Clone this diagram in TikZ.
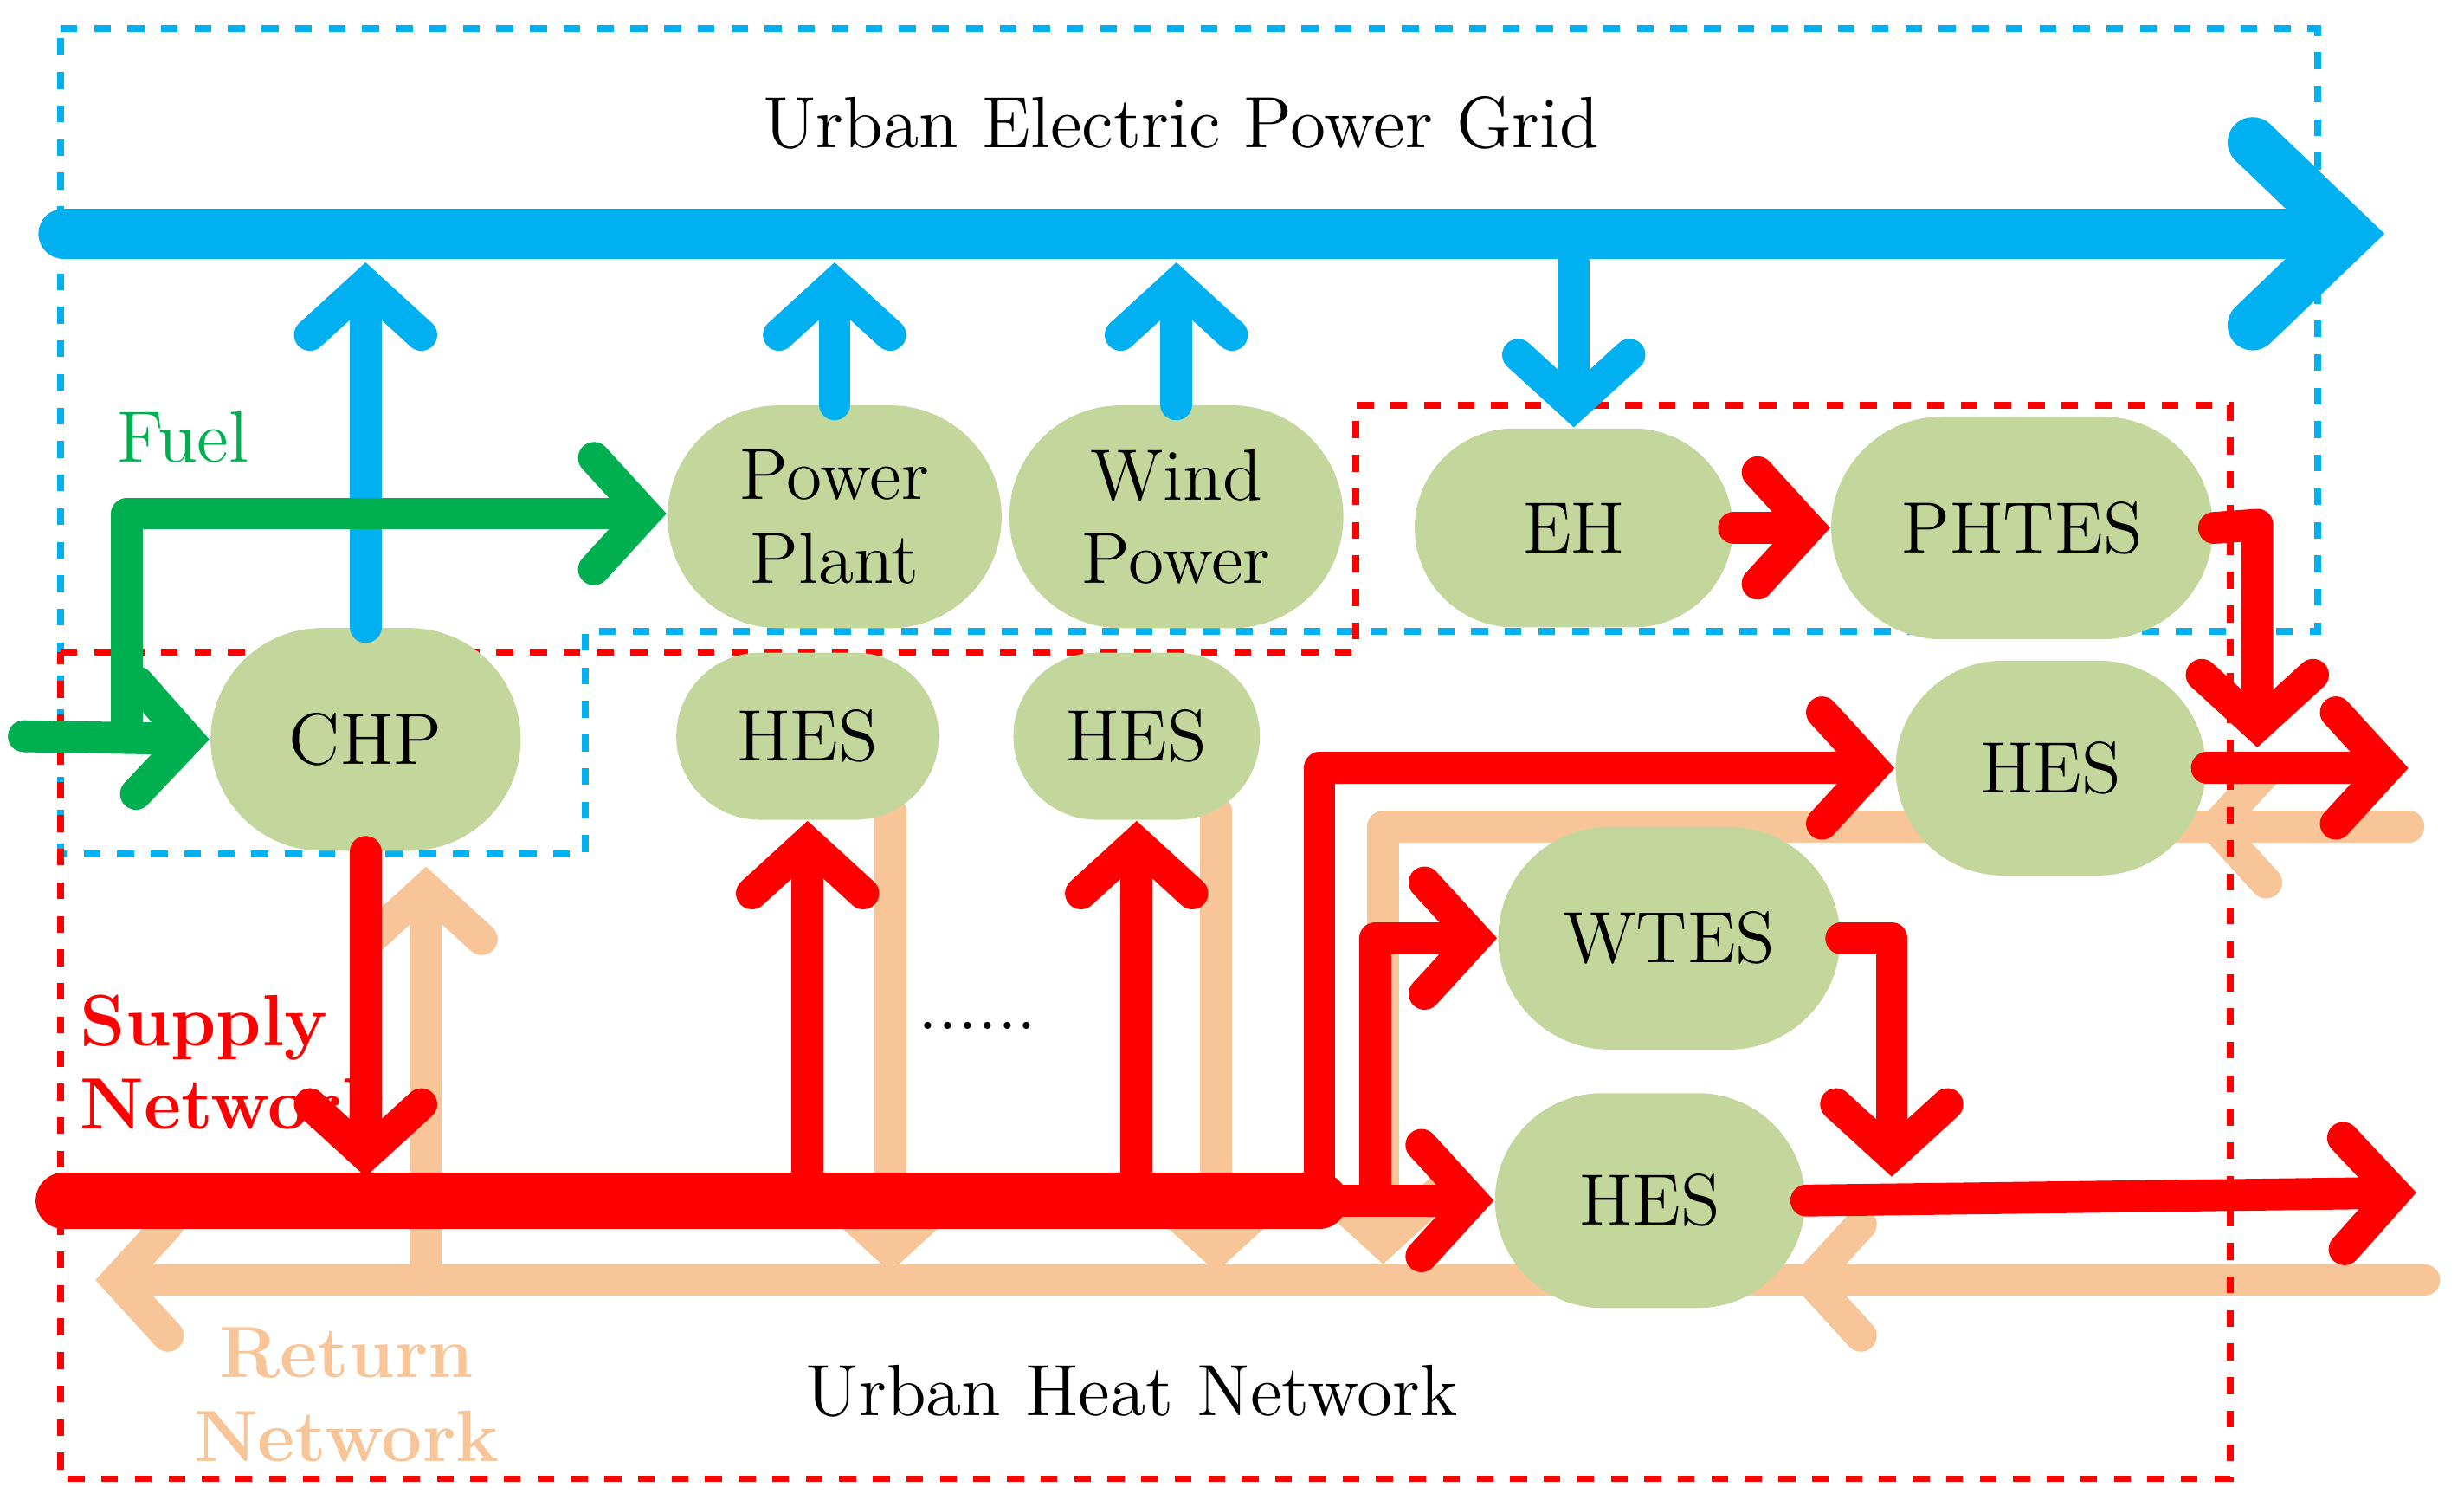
\documentclass[tikz,border=0pt]{standalone}
\usetikzlibrary{arrows.meta,shapes.misc,backgrounds}
\definecolor{eblue}{RGB}{0,176,240}
\definecolor{hred}{RGB}{255,0,0}
\definecolor{retc}{RGB}{248,197,152}
\definecolor{fuelg}{RGB}{0,176,80}
\definecolor{boxg}{RGB}{195,214,155}
\begin{document}
\begin{tikzpicture}[x=0.01cm,y=-0.01cm,
  font=\fontsize{13}{15}\selectfont,
  box/.style={rounded rectangle,fill=boxg,inner sep=0pt,align=center},
  flow/.style={line width=5.7pt,line cap=round,line join=round,
    -{Straight Barb[length=0.32cm,width=0.7cm,line cap=round]}},
  big/.style={line width=9pt,line cap=round,
    -{Straight Barb[length=0.6cm,width=1.15cm,line cap=round]}},
  zone/.style={dashed,line width=1.2pt}]
\useasboundingbox (0,0) rectangle (1550,943);
% zones
\draw[zone,eblue] (38,18) -- (1458,18) -- (1458,397) -- (368,397) -- (368,537) -- (38,537) -- cycle;
\draw[zone,hred] (38,410) -- (853,410) -- (853,255) -- (1403,255) -- (1403,930) -- (38,930) -- cycle;
% nodes
\node[box,minimum width=1.95cm,minimum height=1.4cm] (chp) at (230,465) {CHP};
\node[box,minimum width=2.1cm,minimum height=1.4cm] (pp) at (525,325) {Power\\Plant};
\node[box,minimum width=2.1cm,minimum height=1.4cm] (wp) at (740,325) {Wind\\Power};
\node[box,minimum width=2cm,minimum height=1.25cm] (eh) at (990,332) {EH};
\node[box,minimum width=2.4cm,minimum height=1.4cm] (ph) at (1272,332) {PHTES};
\node[box,minimum width=1.65cm,minimum height=1.05cm] (h1) at (508,463) {HES};
\node[box,minimum width=1.55cm,minimum height=1.05cm] (h2) at (715,463) {HES};
\node[box,minimum width=1.95cm,minimum height=1.35cm] (h3) at (1290,483) {HES};
\node[box,minimum width=2.15cm,minimum height=1.4cm] (wt) at (1050,590) {WTES};
\node[box,minimum width=1.95cm,minimum height=1.35cm] (h4) at (1038,755) {HES};
% texts
\node (t1) at (743,77) {Urban Electric Power Grid};
\node (t2) at (712,875) {Urban Heat Network};
\node[fuelg] (t3) at (115,275) {Fuel};
\node[hred,font=\fontsize{13}{15}\selectfont\bfseries,align=left,anchor=west] (t4) at (38,668) {Supply\\Network};
\node[retc,font=\fontsize{13}{15}\selectfont\bfseries,align=center] (t5) at (218,877) {Return\\Network};
\node (t6) at (615,645) {......};
% coordinates
\coordinate (gl) at (40,147); \coordinate (gr) at (1500,147);
\coordinate (rl) at (1525,805); \coordinate (rr) at (60,805);
% return flows (behind the boxes)
\begin{scope}[on background layer]
\draw[flow,retc] (rl) -- (rr);
\draw[flow,retc] (268,805) -- (268,545);
\draw[flow,retc] (560,510) -- (560,800);
\draw[flow,retc] (765,510) -- (765,800);
\draw[flow,retc] (1515,520) -- (870,520) -- (870,795);
\draw[flow,retc] (1515,520) -- (1380,520);
\draw[flow,retc] (1200,805) -- (1125,805);
\end{scope}
% electric
\draw[big,eblue] (gl) -- (gr);
\draw[flow,eblue] (chp.north) -- (230,165);
\draw[flow,eblue] (pp.north) -- (525,165);
\draw[flow,eblue] (wp.north) -- (740,165);
\draw[flow,eblue] (990,165) -- (eh.north);
% fuel
\draw[flow,fuelg] (15,463) -- (chp.west);
\draw[flow,fuelg] (80,463) -- (80,323) -- (pp.west|-0,323);
% heat supply
\draw[line width=10pt,line cap=round,hred] (40,755) -- (830,755);
\draw[flow,hred] (chp.south) -- (230,740);
\draw[flow,hred] (508,750) -- (h1.south);
\draw[flow,hred] (715,750) -- (h2.south);
\draw[flow,hred] (830,755) -- (830,483) -- (h3.west);
\draw[flow,hred] (865,750) -- (865,590) -- (wt.west);
\draw[flow,hred] (830,755) -- (h4.west);
\draw[flow,hred] (eh.east) -- (ph.west);
\draw[flow,hred] (ph.east) -- (1420,330) -- (1420,470);
\draw[flow,hred] (h3.east) -- (1515,483);
\draw[flow,hred] (wt.east) -- (1190,590) -- (1190,740);
\draw[flow,hred] (h4.east) -- (1520,750);
\end{tikzpicture}
\end{document}
